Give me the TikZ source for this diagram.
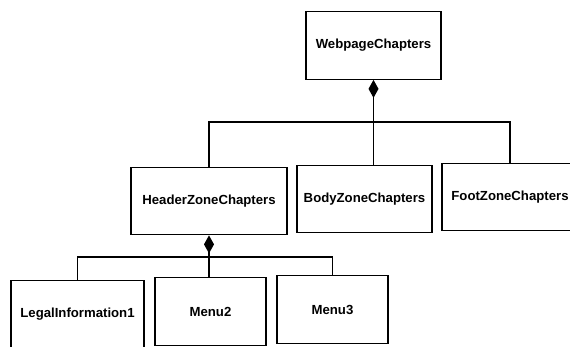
\documentclass[tikz,border=0pt]{standalone}
\usepackage{fontspec}
\setmainfont{Liberation Sans}
\usetikzlibrary{arrows.meta}

\tikzset{
    chapter/.style={draw, line width=0.7pt, minimum height=1.35cm, inner sep=2pt,
        font=\fontsize{7.5}{9}\selectfont\bfseries},
    owns/.style={{Diamond[length=0.36cm,width=0.2cm]}-, line width=0.7pt},
    link/.style={line width=0.7pt}
}

\begin{document}
\begin{tikzpicture}[x=0.02cm, y=-0.02cm]
    \useasboundingbox (0,0) rectangle (570,346);
    \clip (0,0) rectangle (570,346);

    % top level
    \node[chapter, minimum width=2.7cm]  (web)   at (373.5,45.5) {WebpageChapters};

    % zones
    \node[chapter, minimum width=3.12cm] (head)  at (209,201)   {HeaderZoneChapters};
    \node[chapter, minimum width=2.7cm]  (body)  at (364.5,199) {BodyZoneChapters};
    \node[chapter, minimum width=2.72cm] (foot)  at (510,197)   {FootZoneChapters};

    % header parts
    \node[chapter, minimum width=2.66cm] (legal) at (77.5,314)  {LegalInformation1};
    \node[chapter, minimum width=2.22cm] (menu2) at (210.5,311.5) {Menu2};
    \node[chapter, minimum width=2.22cm] (menu3) at (332.5,309.5) {Menu3};

    \coordinate (bus1) at (0,122);
    \coordinate (bus2) at (0,257);

    \draw[owns] (web.south) -- (web.south |- body.north);
    \draw[link] (head.north) |- (bus1 -| foot.north) -- (foot.north);

    \draw[owns] (head.south) -- (head.south |- menu2.north);
    \draw[link] (legal.north) |- (bus2 -| menu3.north) -- (menu3.north);
\end{tikzpicture}
\end{document}
